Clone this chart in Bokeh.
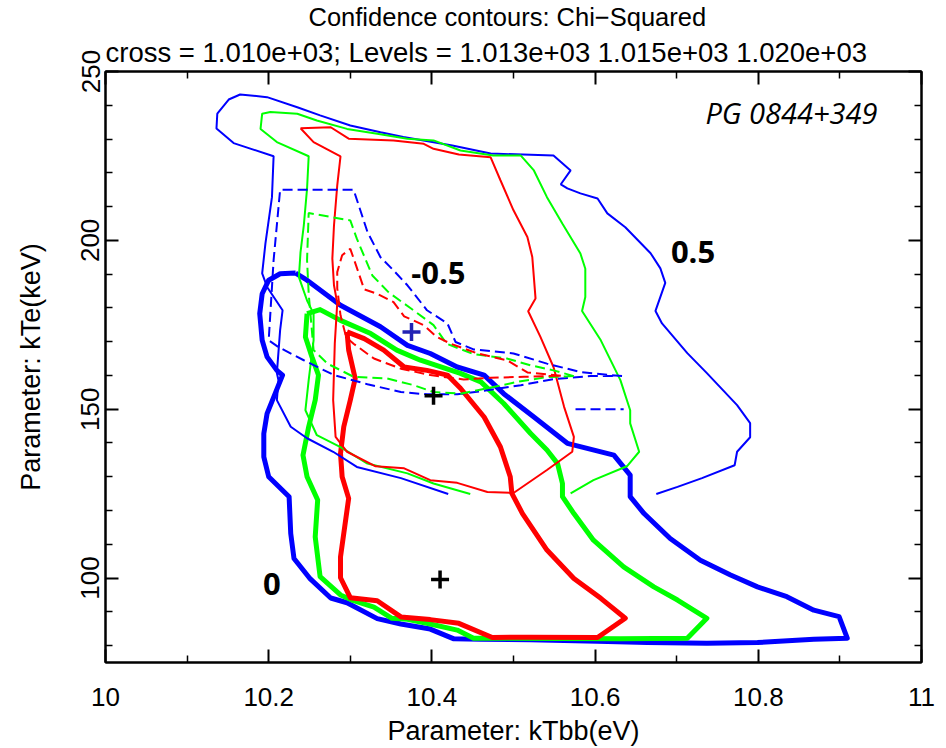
from bokeh.plotting import figure
from bokeh.models import LinearAxis, Range1d, Label, FixedTicker, NumeralTickFormatter, Title
from bokeh.embed import file_html
from bokeh.resources import INLINE

# ---------------- data ----------------
x_ticks = [10, 10.2, 10.4, 10.6, 10.8, 11]
x_minor = [10.1, 10.3, 10.5, 10.7, 10.9]
y_ticks = [100, 150, 200, 250]
y_minor = [80, 90, 110, 120, 130, 140, 160, 170, 180, 190, 210, 220, 230, 240]

# level 0.5 (thin solid)
blue_05_x = [10.675, 10.701, 10.731, 10.771, 10.774, 10.790, 10.790, 10.774, 10.737, 10.713,
             10.682, 10.674, 10.686, 10.680, 10.668, 10.637, 10.615, 10.603, 10.582, 10.566,
             10.558, 10.570, 10.549, 10.472, 10.425, 10.365, 10.337, 10.300, 10.263, 10.235,
             10.198, 10.165, 10.151, 10.137, 10.136, 10.157, 10.206, 10.204, 10.196, 10.192,
             10.198, 10.217, 10.214, 10.210, 10.212, 10.210, 10.227, 10.247, 10.279, 10.308,
             10.362, 10.420]
blue_05_y = [124.9, 127.0, 129.6, 133.4, 137.4, 141.7, 145.9, 151.2, 160.7, 166.6,
             175.4, 179.1, 187.4, 191.7, 196.2, 203.9, 208.0, 212.4, 213.9, 215.4,
             216.6, 220.7, 225.1, 225.7, 228.1, 230.6, 232.0, 234.0, 237.0, 239.4,
             242.4, 243.2, 241.7, 237.5, 233.1, 228.8, 224.9, 212.8, 199.1, 190.2,
             186.2, 179.3, 173.4, 160.7, 158.6, 152.7, 144.8, 141.4, 137.4, 132.9,
             129.6, 124.9]

green_05_x = [10.570, 10.598, 10.639, 10.654, 10.643, 10.643, 10.631, 10.607, 10.584, 10.588,
              10.588, 10.582, 10.560, 10.541, 10.525, 10.509, 10.475, 10.435, 10.402, 10.370,
              10.333, 10.296, 10.259, 10.235, 10.202, 10.192, 10.190, 10.210, 10.249, 10.247,
              10.243, 10.239, 10.237, 10.247, 10.255, 10.255, 10.249, 10.245, 10.259, 10.288,
              10.321, 10.370, 10.402, 10.447]
green_05_y = [125.1, 129.0, 133.1, 137.4, 145.8, 149.7, 158.6, 170.4, 179.1, 183.2,
              191.6, 196.1, 204.9, 212.8, 220.7, 225.1, 225.1, 226.6, 229.6, 230.1,
              231.6, 233.0, 235.5, 237.5, 238.0, 237.5, 233.0, 229.1, 224.9, 215.3,
              204.4, 196.5, 189.1, 182.2, 178.3, 170.4, 158.6, 149.7, 142.3, 138.8,
              133.9, 131.0, 128.0, 124.9]

red_05_x = [10.239, 10.276, 10.298, 10.353, 10.390, 10.402, 10.433, 10.472, 10.484, 10.500,
            10.517, 10.523, 10.527, 10.518, 10.533, 10.549, 10.562, 10.574, 10.572, 10.541,
            10.500, 10.468, 10.431, 10.398, 10.366, 10.331, 10.296, 10.282, 10.279, 10.281,
            10.284, 10.280, 10.278, 10.280, 10.284, 10.288, 10.255, 10.239]
red_05_y = [233.2, 233.5, 230.1, 229.6, 228.6, 227.1, 225.4, 224.6, 217.8, 208.9,
            201.0, 195.1, 182.8, 179.0, 171.4, 162.5, 150.7, 141.8, 137.4, 132.0,
            125.2, 125.5, 128.2, 129.0, 132.5, 133.1, 137.4, 141.8, 152.7, 169.5,
            181.4, 186.7, 194.6, 204.4, 216.3, 224.9, 229.1, 233.2]

# level 0 (thick solid)
blue_0_x = [10.233, 10.247, 10.288, 10.337, 10.370, 10.398, 10.431, 10.464, 10.488, 10.525,
            10.566, 10.623, 10.643, 10.643, 10.660, 10.692, 10.729, 10.766, 10.799, 10.835,
            10.868, 10.899, 10.909, 10.868, 10.799, 10.737, 10.664, 10.603, 10.521, 10.460,
            10.427, 10.398, 10.362, 10.333, 10.296, 10.276, 10.250, 10.231, 10.227, 10.225,
            10.200, 10.194, 10.194, 10.198, 10.217, 10.210, 10.198, 10.192, 10.189, 10.192,
            10.200, 10.214, 10.233]
blue_0_y = [190.3, 188.2, 180.8, 174.4, 168.9, 166.5, 162.5, 160.1, 154.6, 147.7,
            139.9, 136.4, 130.5, 124.1, 119.1, 111.7, 105.3, 100.9, 97.4, 94.5,
            90.5, 88.6, 82.2, 81.9, 80.9, 80.7, 80.9, 81.3, 81.7, 81.9,
            82.0, 84.9, 86.4, 88.0, 92.7, 94.1, 100.0, 105.8, 113.2, 124.1,
            130.0, 135.9, 142.8, 148.7, 160.1, 161.5, 165.5, 170.4, 178.3, 184.2,
            188.2, 190.1, 190.3]

green_0_x = [10.247, 10.263, 10.288, 10.325, 10.357, 10.386, 10.435, 10.460, 10.488, 10.521,
             10.541, 10.554, 10.560, 10.560, 10.574, 10.598, 10.635, 10.672, 10.701, 10.737,
             10.713, 10.631, 10.558, 10.451, 10.431, 10.398, 10.370, 10.351, 10.329, 10.304,
             10.288, 10.263, 10.257, 10.260, 10.247, 10.242, 10.249, 10.257, 10.261, 10.253,
             10.245, 10.247]
green_0_y = [178.3, 179.5, 176.3, 172.4, 167.5, 164.5, 160.6, 158.1, 151.7, 142.8,
             137.9, 133.9, 128.0, 124.1, 119.1, 111.2, 103.3, 97.4, 93.5, 88.1,
             82.2, 82.0, 82.1, 82.2, 84.6, 86.4, 87.8, 88.1, 91.4, 93.3,
             95.0, 100.4, 112.2, 123.1, 130.0, 136.4, 144.8, 152.7, 160.1, 165.5,
             171.4, 178.3]

red_0_x = [10.296, 10.317, 10.341, 10.366, 10.394, 10.419, 10.435, 10.464, 10.484, 10.496,
           10.498, 10.511, 10.541, 10.574, 10.607, 10.637, 10.603, 10.521, 10.474, 10.433,
           10.398, 10.362, 10.333, 10.300, 10.288, 10.288, 10.298, 10.290, 10.288, 10.292,
           10.300, 10.306, 10.298, 10.296]
red_0_y = [172.9, 170.9, 167.5, 162.5, 161.5, 160.1, 156.2, 147.7, 138.8, 130.0,
           125.1, 119.1, 108.3, 99.9, 94.0, 88.1, 82.4, 82.5, 82.4, 86.6,
           87.7, 88.5, 93.3, 94.2, 100.1, 106.3, 123.6, 130.0, 136.9, 144.8,
           152.7, 159.1, 167.5, 172.9]

# level -0.5 (dashed)
blue_m05_x = [10.633, 10.582, 10.541, 10.500, 10.451, 10.429, 10.419, 10.394, 10.370, 10.353,
              10.337, 10.321, 10.313, 10.304, 10.214, 10.206, 10.200, 10.212, 10.243, 10.280,
              10.321, 10.362, 10.394, 10.431, 10.468, 10.509, 10.549, 10.594, 10.633]
blue_m05_y = [159.8, 161.0, 163.5, 166.5, 167.7, 169.9, 175.4, 179.3, 186.7, 191.1,
              195.0, 202.5, 208.4, 215.0, 215.0, 194.1, 170.4, 168.4, 164.5, 160.1,
              157.4, 155.1, 154.4, 154.4, 155.6, 157.1, 158.9, 159.8, 159.8]
blue_m05b_x = [10.576, 10.635]
blue_m05b_y = [150.0, 150.0]

green_m05_x = [10.574, 10.549, 10.521, 10.492, 10.451, 10.418, 10.402, 10.374, 10.347, 10.327,
               10.308, 10.300, 10.249, 10.247, 10.249, 10.255, 10.272, 10.304, 10.345, 10.378,
               10.402, 10.435, 10.468, 10.509, 10.541, 10.574]
green_m05_y = [159.8, 161.5, 163.0, 165.0, 166.3, 169.4, 174.9, 179.9, 184.6, 189.6,
               200.5, 205.9, 208.1, 194.1, 184.2, 167.5, 163.5, 159.6, 159.1, 157.1,
               155.1, 154.6, 156.2, 158.3, 159.5, 159.8]

red_m05_x = [10.558, 10.517, 10.492, 10.456, 10.423, 10.406, 10.390, 10.366, 10.353, 10.333,
             10.317, 10.310, 10.300, 10.290, 10.284, 10.284, 10.288, 10.295, 10.304, 10.329,
             10.362, 10.398, 10.439, 10.472, 10.513, 10.558]
red_m05_y = [159.9, 160.9, 164.5, 166.5, 169.4, 171.4, 174.9, 177.5, 181.7, 184.2,
             185.5, 190.5, 197.5, 195.6, 190.6, 185.8, 177.8, 171.3, 169.4, 165.0,
             162.0, 160.1, 158.8, 159.3, 159.6, 159.9]

# best-fit crosses
cross_x = [10.375, 10.402, 10.410]
cross_y = [172.9, 154.0, 99.6]
cross_colors = ["#2323b4", "black", "black"]

title_1 = "Confidence contours: Chi\u2212Squared"
title_2 = "cross = 1.010e+03; Levels =  1.013e+03 1.015e+03 1.020e+03"

# ---------------- figure ----------------
FONT = "Liberation Sans"
p = figure(width=946, height=748, x_range=Range1d(10, 11), y_range=Range1d(75, 250),
           output_backend="svg", toolbar_location=None,
           min_border_left=105, min_border_right=25, min_border_top=71, min_border_bottom=86)
p.grid.visible = False
p.outline_line_color = "black"
p.outline_line_width = 2
p.background_fill_color = "white"
p.border_fill_color = "white"


def style_axis(ax, ticks, minor, show_labels):
    ax.ticker = FixedTicker(ticks=ticks, minor_ticks=minor)
    ax.axis_line_width = 2
    ax.axis_line_color = "black"
    ax.major_tick_in = 13
    ax.major_tick_out = 0
    ax.minor_tick_in = 7
    ax.minor_tick_out = 0
    ax.major_tick_line_width = 2
    ax.minor_tick_line_width = 1.5
    ax.major_label_text_font = FONT
    ax.major_label_text_color = "black"
    if not show_labels:
        ax.major_label_text_font_size = "0px"
        ax.major_label_text_alpha = 0
        ax.major_label_standoff = 0


xa = p.xaxis[0]
style_axis(xa, x_ticks, x_minor, True)
xa.formatter = NumeralTickFormatter(format="0.[0]")
xa.major_label_text_font_size = "26px"
xa.major_label_standoff = 25
xa.axis_label = "Parameter: kTbb(eV)"
xa.axis_label_text_font = FONT
xa.axis_label_text_font_style = "normal"
xa.axis_label_text_color = "black"
xa.axis_label_text_font_size = "27px"
xa.axis_label_standoff = 7

ya = p.yaxis[0]
style_axis(ya, y_ticks, y_minor, True)
ya.major_label_orientation = "vertical"
ya.major_label_text_font_size = "26px"
ya.major_label_standoff = 6
ya.axis_label = "Parameter: kTe(keV)"
ya.axis_label_text_font = FONT
ya.axis_label_text_font_style = "normal"
ya.axis_label_text_color = "black"
ya.axis_label_text_font_size = "27px"
ya.axis_label_standoff = 33

top = LinearAxis()
style_axis(top, x_ticks, x_minor, False)
p.add_layout(top, "above")
right = LinearAxis()
style_axis(right, y_ticks, y_minor, False)
p.add_layout(right, "right")

# two-line title above the frame
p.add_layout(Title(text=title_2, align="left", offset=0, text_font=FONT, text_font_size="27.5px",
                   text_font_style="normal", text_color="black", standoff=8), "above")
p.add_layout(Title(text=title_1, align="left", offset=203, text_font=FONT, text_font_size="25.5px",
                   text_font_style="normal", text_color="black", standoff=0), "above")

# contours: thick (0), thin (0.5), dashed (-0.5)
BLUE, GREEN, RED = "#0000ff", "#00ff00", "#ff0000"
for xs, ys, c in [(blue_0_x, blue_0_y, BLUE), (green_0_x, green_0_y, GREEN), (red_0_x, red_0_y, RED)]:
    p.line(xs, ys, line_color=c, line_width=5, line_join="round")
for xs, ys, c in [(blue_05_x, blue_05_y, BLUE), (green_05_x, green_05_y, GREEN), (red_05_x, red_05_y, RED)]:
    p.line(xs, ys, line_color=c, line_width=2)
for xs, ys, c in [(blue_m05_x, blue_m05_y, BLUE), (blue_m05b_x, blue_m05b_y, BLUE),
                  (green_m05_x, green_m05_y, GREEN), (red_m05_x, red_m05_y, RED)]:
    p.line(xs, ys, line_color=c, line_width=2, line_dash="10 5")

p.scatter(cross_x, cross_y, marker="cross", size=18, line_width=3.5, line_color=cross_colors)

# level labels
for txt, lx, ly in [("0", 10.204, 98.2), ("0.5", 10.720, 196.5), ("-0.5", 10.408, 190.4)]:
    p.add_layout(Label(x=lx, y=ly, text=txt, text_font="Open Sans", text_font_style="bold",
                       text_font_size="31px", text_align="center", text_baseline="middle",
                       text_color="black"))
p.add_layout(Label(x=10.946, y=237.9, text="PG 0844+349", text_font="Open Sans",
                   text_font_style="italic", text_font_size="29px", text_align="right",
                   text_baseline="middle", text_color="black"))

open("out.html", "w").write(file_html(p, INLINE))
